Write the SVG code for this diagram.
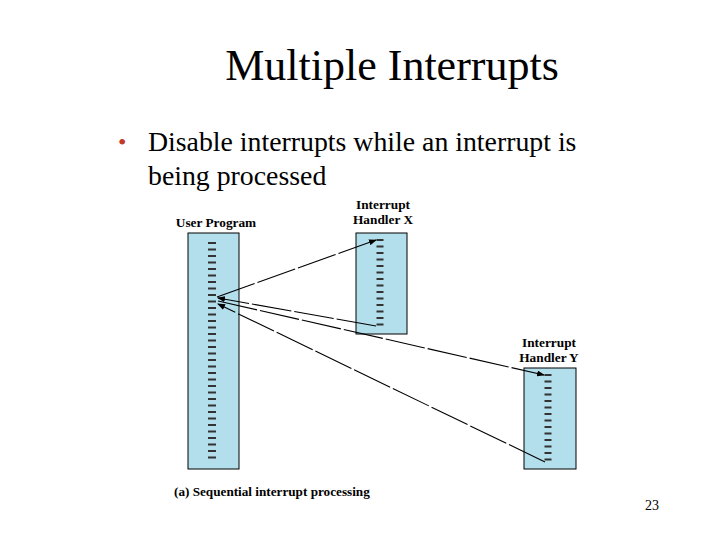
<svg xmlns="http://www.w3.org/2000/svg" width="720" height="540" viewBox="0 0 720 540">
<style>
text{font-family:"Liberation Serif","Times New Roman",serif}
.box{fill:#b3dfed;stroke:#000;stroke-width:1}
.tick{stroke:#333;stroke-width:8;stroke-dasharray:2 4.5}
.lbl{font-weight:bold;font-size:13.3px;fill:#000}
.con{stroke:#000;stroke-width:1.1;fill:none;stroke-dasharray:40 3}
</style>
<defs><marker id="ah" markerWidth="8" markerHeight="6" refX="7" refY="3" orient="auto" markerUnits="userSpaceOnUse"><path d="M0,0 L8,3 L0,6 z" fill="#000"/></marker></defs>
<rect width="720" height="540" fill="#fff"/>
<text x="392" y="80" text-anchor="middle" font-size="44">Multiple Interrupts</text>
<text x="118" y="150" font-size="24" fill="#c0392b">•</text>
<text x="148" y="151" font-size="27.8">Disable interrupts while an interrupt is</text>
<text x="148" y="185" font-size="27.8">being processed</text>
<g id="user">
<rect class="box" x="188" y="233" width="51" height="236"/>
<line class="tick" x1="212" y1="242" x2="212" y2="462"/>
<text class="lbl" x="216" y="227" text-anchor="middle">User Program</text>
</g>
<g id="hx">
<rect class="box" x="356" y="233" width="51" height="101"/>
<line class="tick" x1="380" y1="239" x2="380" y2="328" style="stroke-width:7"/>
<text class="lbl" x="383" y="209" text-anchor="middle">Interrupt</text>
<text class="lbl" x="383" y="224" text-anchor="middle">Handler X</text>
</g>
<g id="hy">
<rect class="box" x="524" y="368" width="52" height="101"/>
<line class="tick" x1="548" y1="374" x2="548" y2="463" style="stroke-width:7"/>
<text class="lbl" x="549" y="347" text-anchor="middle">Interrupt</text>
<text class="lbl" x="549" y="362" text-anchor="middle">Handler Y</text>
</g>
<g id="connectors">
<line class="con" x1="217" y1="297" x2="376" y2="240" marker-end="url(#ah)"/>
<line class="con" x1="376" y1="326" x2="218" y2="298" marker-end="url(#ah)"/>
<line class="con" x1="218" y1="301" x2="544" y2="375" marker-end="url(#ah)"/>
<line class="con" x1="545" y1="462" x2="218" y2="304" marker-end="url(#ah)"/>
</g>
<text x="174" y="496" font-weight="bold" font-size="13.2">(a) Sequential interrupt processing</text>
<text x="652" y="510" text-anchor="middle" font-size="14">23</text>
</svg>
